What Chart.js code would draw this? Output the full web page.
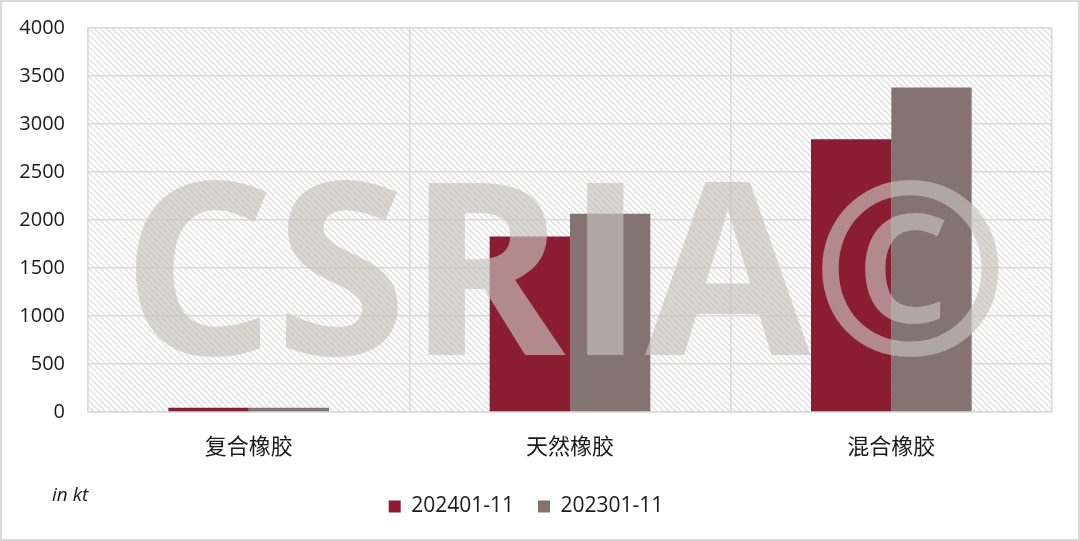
<!DOCTYPE html>
<html>
<head>
<meta charset="utf-8">
<script src="https://cdn.jsdelivr.net/npm/chart.js@4"></script>
<style>
  html, body { margin: 0; padding: 0; background: #fff; }
  #wrap { width: 1080px; height: 541px; position: relative; }
</style>
</head>
<body>
<div id="wrap"><canvas id="rubberChart"></canvas></div>
<script>
// data (in kt)
const categories = ['复合橡胶', '天然橡胶', '混合橡胶'];
const seriesNames = ['202401-11', '202301-11'];
const values2024 = [45, 1828, 2841];
const values2023 = [43, 2064, 3381];
const yTicks = [0, 500, 1000, 1500, 2000, 2500, 3000, 3500, 4000];

const numFont = '"Open Sans", "Noto Sans", sans-serif';
const cjkFont = '"Noto Sans CJK SC", "Noto Sans", sans-serif';

// diagonal hatch behind the plot area
const hatchBg = {
  id: 'hatchBg',
  beforeDraw(chart) {
    const { ctx, chartArea: a } = chart;
    ctx.save();
    ctx.beginPath();
    ctx.rect(a.left, a.top, a.right - a.left, a.bottom - a.top);
    ctx.clip();
    ctx.strokeStyle = '#dadada';
    ctx.lineWidth = 1.2;
    const h = a.bottom - a.top;
    ctx.beginPath();
    for (let x = a.left - h; x < a.right; x += 6) {
      ctx.moveTo(x, a.top);
      ctx.lineTo(x + h, a.bottom);
    }
    ctx.stroke();
    ctx.restore();
  }
};

// watermark, unit note and outer frame
const extras = {
  id: 'extras',
  afterDatasetsDraw(chart) {
    const { ctx } = chart;
    ctx.save();
    ctx.font = 'bold 240px ' + numFont;
    ctx.fillStyle = 'rgba(199,194,188,0.66)';
    ctx.textBaseline = 'alphabetic';
    ctx.textAlign = 'left';
    ctx.fillText('CSRIA©', 122, 355);
    ctx.restore();
  },
  afterDraw(chart) {
    const { ctx } = chart;
    ctx.save();
    ctx.font = 'italic 19px ' + numFont;
    ctx.fillStyle = '#1a1a1a';
    ctx.textBaseline = 'alphabetic';
    ctx.fillText('in kt', 52, 501);
    ctx.strokeStyle = '#d9d9d9';
    ctx.lineWidth = 2;
    ctx.strokeRect(1, 1, chart.width - 2, chart.height - 2);
    ctx.restore();
  }
};

new Chart(document.getElementById('rubberChart').getContext('2d'), {
  type: 'bar',
  data: {
    labels: categories,
    datasets: [
      { label: seriesNames[0], data: values2024, backgroundColor: '#8b1d32' },
      { label: seriesNames[1], data: values2023, backgroundColor: '#857371' }
    ]
  },
  options: {
    responsive: true,
    maintainAspectRatio: false,
    animation: false,
    devicePixelRatio: 1,
    categoryPercentage: 0.5,
    barPercentage: 1.0,
    layout: { padding: { top: 28, right: 28, left: 0, bottom: 14 } },
    plugins: {
      tooltip: { enabled: false },
      legend: {
        position: 'bottom',
        labels: {
          boxWidth: 12, boxHeight: 12, padding: 24,
          color: '#1a1a1a',
          font: { family: numFont, size: 21 }
        }
      }
    },
    scales: {
      x: {
        grid: { color: '#d9d9d9', lineWidth: 1.5, drawTicks: false },
        border: { color: '#d9d9d9', width: 1.5 },
        ticks: { color: '#1a1a1a', padding: 20, font: { family: cjkFont, size: 22 } },
        afterFit(s) { s.height = 60; }
      },
      y: {
        min: 0, max: 4000,
        afterBuildTicks(s) { s.ticks = yTicks.map(v => ({ value: v })); },
        grid: { color: '#d9d9d9', lineWidth: 1.5, drawTicks: false },
        border: { color: '#d9d9d9', width: 1.5 },
        ticks: {
          color: '#1a1a1a', padding: 23,
          font: { family: numFont, size: 20 },
          callback: (v) => String(v)
        },
        afterFit(s) { s.width = 88; s.paddingTop = 0; s.paddingBottom = 0; }
      }
    }
  },
  plugins: [hatchBg, extras]
});
</script>
</body>
</html>
